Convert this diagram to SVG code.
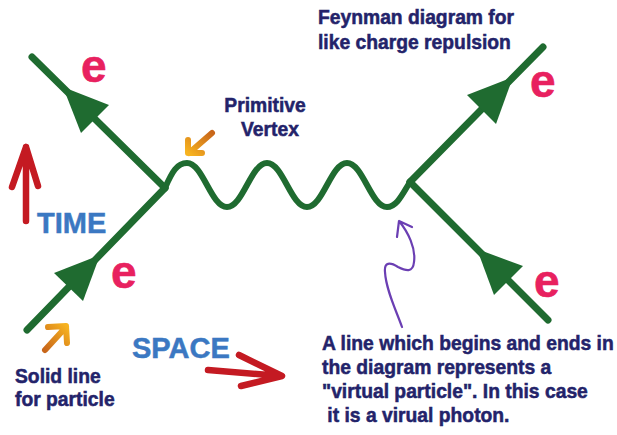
<svg xmlns="http://www.w3.org/2000/svg" width="617" height="435" viewBox="0 0 617 435">
<defs>
<linearGradient id="og1" x1="1" y1="0" x2="0" y2="1"><stop offset="0" stop-color="#c8661a"/><stop offset="1" stop-color="#f7b320"/></linearGradient>
<linearGradient id="og2" x1="0" y1="1" x2="1" y2="0"><stop offset="0" stop-color="#c8661a"/><stop offset="1" stop-color="#f7b320"/></linearGradient>
</defs>
<style>
.fermion{stroke:#1f6b30;stroke-width:7;fill:none;stroke-linecap:round}
.head{fill:#1f6b30}
.photon{stroke:#1f6b30;stroke-width:6;fill:none;stroke-linecap:round}
.e{font-family:"Liberation Sans",Arial,sans-serif;font-weight:bold;font-size:46px;fill:#e8215f;stroke:#e8215f;stroke-width:0.6}
.note{font-family:"Liberation Sans",Arial,sans-serif;font-weight:bold;font-size:19.3px;fill:#23236a;stroke:#23236a;stroke-width:0.5}
.axis{font-family:"Liberation Sans",Arial,sans-serif;font-weight:bold;font-size:29px;fill:#3b78c2;stroke:#3b78c2;stroke-width:0.5}
.red{stroke:#c41a22;stroke-width:6.5;fill:none;stroke-linecap:round;stroke-linejoin:round}
.purple{stroke:#6b3fb3;stroke-width:2.2;fill:none;stroke-linecap:round;stroke-linejoin:round}
</style>
<rect width="617" height="435" fill="#ffffff"/>
<g id="connectors">
<path class="fermion" d="M165,188 L32,57"/>
<polygon class="head" points="63,87 109,105 81,133"/>
<path class="fermion" d="M165,188 L27,330"/>
<polygon class="head" points="100,255 83,301 54,273"/>
<path class="fermion" d="M410,182 L543,47"/>
<polygon class="head" points="513,77 496,124 467,95"/>
<path class="fermion" d="M410,182 L548,320"/>
<polygon class="head" points="477,249 523,266 494,295"/>
<path class="photon" d="M165,188 C172,172 177,163 187,163 C203,163 211,207 227,207 C243,207 251,163 267,163 C283,163 291,207 307,207 C323,207 331,163 347,163 C363,163 371,207 387,207 C397,207 403,193 410,182"/>
</g>
<g id="labels-e">
<text class="e" x="81" y="82">e</text>
<text class="e" x="530" y="97">e</text>
<text class="e" x="111" y="288">e</text>
<text class="e" x="534" y="297">e</text>
</g>
<g id="title">
<text class="note" x="318" y="24">Feynman diagram for</text>
<text class="note" x="318" y="49">like charge repulsion</text>
</g>
<g id="vertex-label">
<text class="note" x="265" y="112" text-anchor="middle">Primitive</text>
<text class="note" x="270" y="136" text-anchor="middle">Vertex</text>
<path d="M212,133 L189,153 M188,140 L188,153 L202,153" stroke="url(#og1)" stroke-width="6" fill="none" stroke-linecap="round" stroke-linejoin="round"/>
</g>
<g id="time">
<path class="red" d="M26,221 L26,147 M12,187 L26,147 L38,186"/>
<text class="axis" x="37" y="233">TIME</text>
</g>
<g id="space">
<text class="axis" x="132" y="358">SPACE</text>
<path class="red" d="M208,370 L281,376 M239,355 L282,376 L241,386"/>
</g>
<g id="solid-line-label">
<path d="M45,350 L66,327 M48,327 L66,326 L67,343" stroke="url(#og2)" stroke-width="6" fill="none" stroke-linecap="round" stroke-linejoin="round"/>
<text class="note" x="15" y="383">Solid line</text>
<text class="note" x="15" y="406">for particle</text>
</g>
<g id="virtual-label">
<path class="purple" d="M402,327 C396,310 386,290 385,272 C384,262 390,262 398,267 C406,271 413,273 414,262 C416,248 408,232 399,221 M397,237 L399,221 L412,227"/>
<text class="note" x="322" y="350">A line which begins and ends in</text>
<text class="note" x="322" y="374">the diagram represents a</text>
<text class="note" x="322" y="398">"virtual particle". In this case</text>
<text class="note" x="322" y="422" xml:space="preserve"> it is a virual photon.</text>
</g>
</svg>
